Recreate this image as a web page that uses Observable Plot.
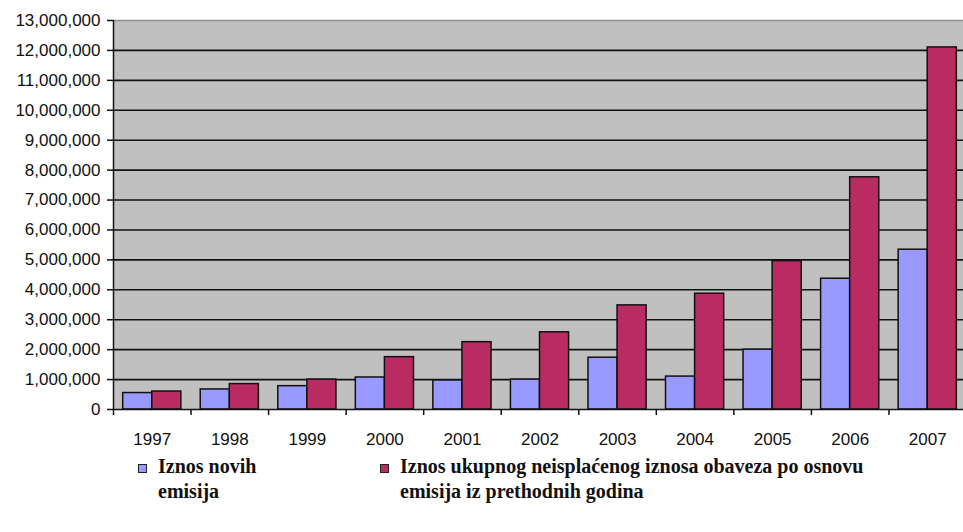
<!DOCTYPE html>
<html>
<head>
<meta charset="utf-8">
<script src="https://cdn.jsdelivr.net/npm/d3@7"></script>
<script src="https://cdn.jsdelivr.net/npm/@observablehq/plot@0.6"></script>
<style>
  html, body { margin: 0; padding: 0; background: #fff; }
  #chart { position: relative; width: 963px; height: 532px; overflow: hidden; }
  .legend { position: absolute; font-family: "Liberation Serif", "Times New Roman", serif; font-weight: bold;
            font-size: 20px; line-height: 25px; color: #111; }
  .legend .sw { position: absolute; left: -20px; top: 10px; width: 7px; height: 7px; border: 1px solid #222; }
</style>
</head>
<body>
<div id="chart"></div>
<script>
// Issues per year
const years = [1997, 1998, 1999, 2000, 2001, 2002, 2003, 2004, 2005, 2006, 2007];
// New issues amount
const newIssues = [550000, 670000, 780000, 1070000, 970000, 1000000, 1730000, 1100000, 2000000, 4370000, 5340000];
// Total outstanding obligations from previous years' issues
const outstanding = [600000, 850000, 1000000, 1750000, 2250000, 2580000, 3480000, 3870000, 4960000, 7760000, 12100000];
// Axis ticks
const yTicks = [0, 1000000, 2000000, 3000000, 4000000, 5000000, 6000000, 7000000, 8000000, 9000000, 10000000, 11000000, 12000000, 13000000];
const seriesNames = ["Iznos novih\nemisija", "Iznos ukupnog neisplaćenog iznosa obaveza po osnovu\nemisija iz prethodnih godina"];
const colors = ["#9999ff", "#b92b61"];

const rowsNew = years.map((year, i) => ({year, value: newIssues[i]}));
const rowsOut = years.map((year, i) => ({year, value: outstanding[i]}));
const bounds = years.map(y => y - 0.5);
const barW = 0.375; // each bar's share of a year band

const plot = Plot.plot({
  width: 963,
  height: 460,
  marginLeft: 113,
  marginRight: -3,
  marginTop: 20,
  marginBottom: 51,
  style: {fontFamily: "'Liberation Sans', Arial, sans-serif", fontSize: "17px", background: "#fff", color: "#111", overflow: "hidden"},
  x: {domain: [1996.5, 2007.5], axis: null},
  y: {domain: [0, 13000000], axis: null},
  marks: [
    Plot.frame({fill: "#c0c0c0"}),
    Plot.ruleY([13000000], {stroke: "#8e8e8e", strokeWidth: 1.5}),
    Plot.ruleY(yTicks.slice(1, -1), {stroke: "#111", strokeWidth: 1.6}),
    Plot.rectY(rowsNew, {x1: d => d.year - barW, x2: d => d.year, y: "value", fill: colors[0], stroke: "#111", strokeWidth: 1.5}),
    Plot.rectY(rowsOut, {x1: d => d.year, x2: d => d.year + barW, y: "value", fill: colors[1], stroke: "#111", strokeWidth: 1.5}),
    Plot.ruleX([1996.5], {stroke: "#111", strokeWidth: 1.5}),
    Plot.ruleY([0], {stroke: "#111", strokeWidth: 1.6}),
    Plot.axisY({ticks: yTicks, tickFormat: d3.format(","), tickSize: 6, tickPadding: 7, strokeWidth: 1.5, label: null}),
    Plot.axisX({ticks: bounds, tickFormat: () => "", tickSize: 6, strokeWidth: 1.5, label: null}),
    Plot.axisX({ticks: years, tickFormat: d => String(d), tickSize: 0, tickPadding: 23, label: null})
  ]
});
const chart = document.getElementById("chart");
chart.appendChild(plot);

// Legend below the plot
const legendPos = [{left: 158, top: 454}, {left: 400, top: 454}];
seriesNames.forEach((name, i) => {
  const div = document.createElement("div");
  div.className = "legend";
  div.style.left = legendPos[i].left + "px";
  div.style.top = legendPos[i].top + "px";
  const sw = document.createElement("span");
  sw.className = "sw";
  sw.style.background = colors[i];
  div.appendChild(sw);
  name.split("\n").forEach(line => {
    const l = document.createElement("div");
    l.textContent = line;
    div.appendChild(l);
  });
  chart.appendChild(div);
});
</script>
</body>
</html>
